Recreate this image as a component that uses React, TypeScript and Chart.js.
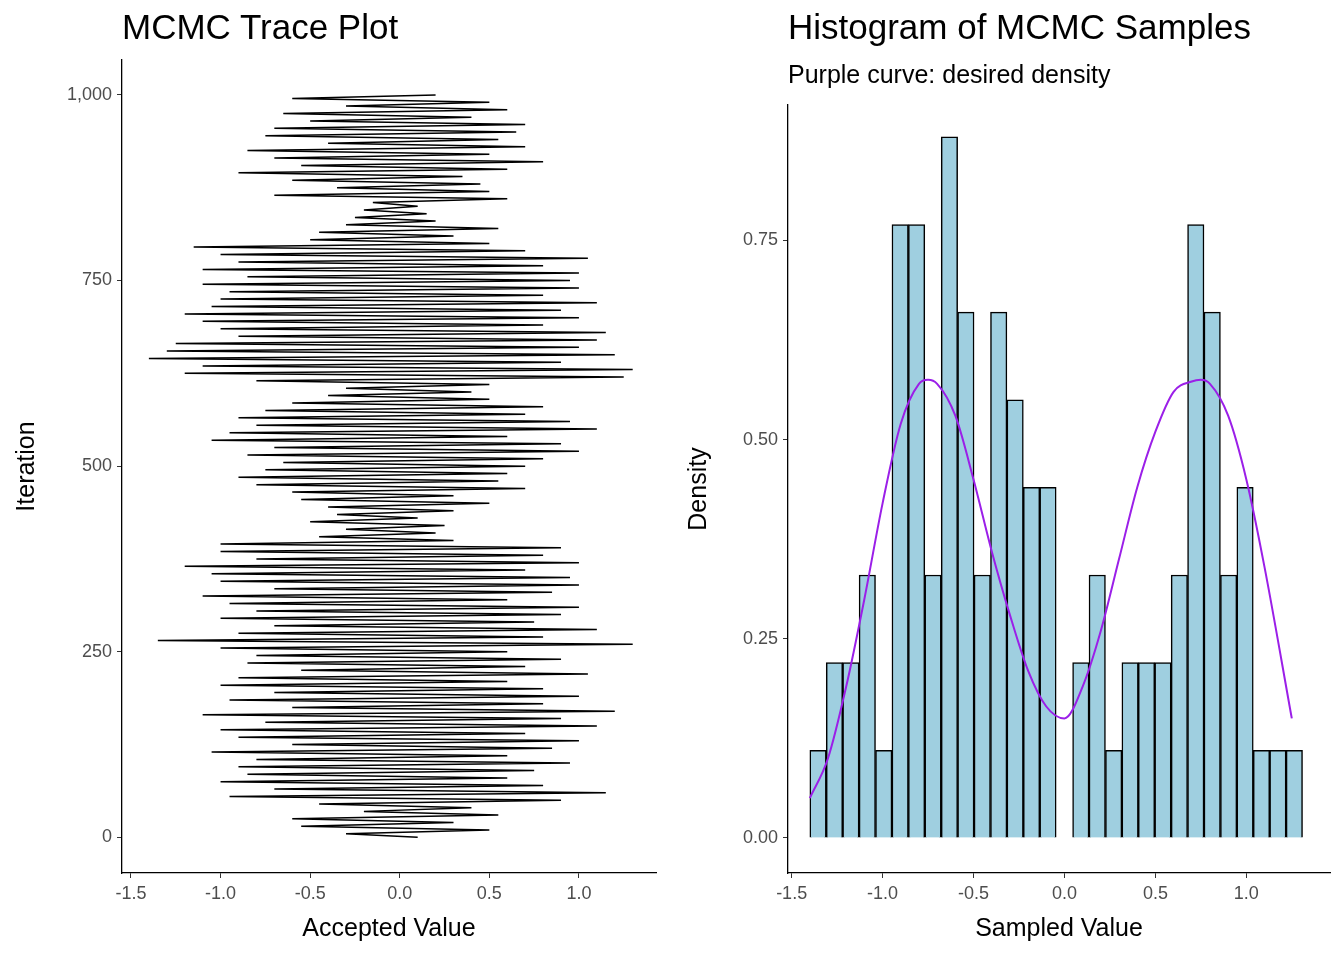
import { useEffect, useRef } from "react"
import { Chart, registerables } from "chart.js"

Chart.register(...registerables)

// trace: accepted value every 5 iterations
const traceStep = 5
const traceValues = [
  0.1, -0.3, 0.5, -0.55, 0.3, -0.6, 0.55, -0.2, 0.4, -0.45,
  0.9, -0.95, 1.15, -0.7, 0.8, -1.0, 0.6, -0.85, 0.75, -0.9,
  0.95, -0.8, 0.6, -1.05, 0.85, -0.6, 1.0, -0.9, 0.7, -1.0,
  1.1, -0.75, 0.9, -1.1, 1.2, -0.6, 0.8, -0.95, 1.0, -0.7,
  0.8, -1.0, 0.6, -0.9, 1.05, -0.55, 0.7, -0.85, 0.9, -0.8,
  0.6, -1.0, 1.3, -1.35, 0.8, -0.9, 1.1, -0.7, 0.75, -1.0,
  0.9, -0.8, 1.0, -0.95, 0.6, -1.1, 0.85, -0.7, 1.0, -1.0,
  0.95, -1.05, 0.7, -1.2, 1.0, -0.8, 0.8, -1.0, 0.9, -1.0,
  0.3, -0.45, 0.2, -0.3, 0.25, -0.5, 0.1, -0.35, 0.3, -0.4,
  0.5, -0.55, 0.3, -0.6, 0.7, -0.8, 0.55, -0.9, 0.6, -0.75,
  0.7, -0.65, 0.8, -0.85, 1.0, -0.7, 0.9, -1.05, 0.6, -0.95,
  1.1, -0.8, 0.95, -0.9, 0.7, -0.75, 0.8, -0.6, 0.5, -0.4,
  0.4, -0.3, 0.5, -0.8, 1.25, -1.2, 1.3, -1.1, 0.9, -1.4,
  1.2, -1.3, 1.0, -1.25, 1.1, -0.9, 1.15, -1.0, 0.8, -1.1,
  1.0, -1.2, 0.9, -1.05, 1.1, -1.0, 0.8, -0.95, 1.0, -1.1,
  0.95, -0.85, 1.0, -1.1, 0.8, -0.9, 1.05, -1.0, 0.7, -1.15,
  0.5, -0.5, 0.3, -0.45, 0.55, -0.3, 0.2, -0.25, 0.15, -0.2,
  0.1, -0.15, 0.6, -0.7, 0.5, -0.35, 0.45, -0.6, 0.35, -0.9,
  0.6, -0.55, 0.8, -0.7, 0.5, -0.85, 0.7, -0.4, 0.55, -0.75,
  0.65, -0.7, 0.7, -0.5, 0.4, -0.65, 0.6, -0.3, 0.5, -0.6,
  0.2,
]

// histogram
const binStart = -1.4
const binWidth = 0.0903
const binDensity = [
  0.11, 0.22, 0.22, 0.33, 0.11, 0.77, 0.77, 0.33, 0.88, 0.66,
  0.33, 0.66, 0.55, 0.44, 0.44, null, 0.22, 0.33, 0.11, 0.22,
  0.22, 0.22, 0.33, 0.77, 0.66, 0.33, 0.44, 0.11, 0.11, 0.11,
]

// desired density curve
const curveX = [-1.4, -1.3, -1.2, -1.1, -1.0, -0.9, -0.8, -0.75, -0.7, -0.6, -0.5, -0.4, -0.3, -0.2, -0.1, 0, 0.1, 0.2, 0.3, 0.4, 0.5, 0.6, 0.7, 0.75, 0.8, 0.9, 1.0, 1.1, 1.25]
const curveY = [0.05, 0.1, 0.19, 0.3, 0.42, 0.52, 0.57, 0.575, 0.57, 0.53, 0.45, 0.36, 0.28, 0.21, 0.165, 0.15, 0.19, 0.26, 0.35, 0.44, 0.51, 0.56, 0.573, 0.575, 0.57, 0.53, 0.45, 0.34, 0.15]

const valueTicks = [-1.5, -1.0, -0.5, 0.0, 0.5, 1.0]
const iterTicks = [0, 250, 500, 750, 1000]
const densityTicks = [0, 0.25, 0.5, 0.75]

const font = "'Liberation Sans', Arial, sans-serif"

function axis(ticks: number[], fmt: (v: number) => string, min: number, max: number, title: string, size: { w?: number; h?: number }) {
  return {
    type: "linear" as const,
    min,
    max,
    afterBuildTicks: (s: any) => { s.ticks = ticks.map((v) => ({ value: v })) },
    afterFit: (s: any) => {
      if (size.w !== undefined) s.width = size.w
      if (size.h !== undefined) s.height = size.h
    },
    grid: { drawOnChartArea: false, drawTicks: true, tickLength: 5, color: "#333", offset: false },
    border: { color: "#000", width: 1.3 },
    ticks: { color: "#4d4d4d", font: { family: font, size: 18 }, padding: 5, callback: (v: any) => fmt(Number(v)) },
    title: { display: true, text: title, color: "#000", font: { family: font, size: 25 }, padding: 2 },
  }
}

function TraceChart() {
  const ref = useRef<HTMLCanvasElement>(null)
  useEffect(() => {
    if (!ref.current) return
    const chart = new Chart(ref.current, {
      type: "scatter",
      data: {
        datasets: [{
          data: traceValues.map((v, i) => ({ x: v, y: i * traceStep })),
          showLine: true,
          borderColor: "#000",
          borderWidth: 1.5,
          pointRadius: 0,
          tension: 0,
        }],
      },
      options: {
        animation: false,
        responsive: false,
        layout: { padding: { top: 60, right: 16, left: 10, bottom: 14 } },
        plugins: { legend: { display: false }, tooltip: { enabled: false } },
        scales: {
          x: axis(valueTicks, (v) => v.toFixed(1), -1.55, 1.43, "Accepted Value", { h: 73 }),
          y: axis(iterTicks, (v) => v.toLocaleString("en-US"), -48, 1047, "Iteration", { w: 112 }),
        },
      },
    })
    return () => chart.destroy()
  }, [])
  return <canvas ref={ref} width={672} height={960} style={{ width: 672, height: 960 }} />
}

function HistChart() {
  const ref = useRef<HTMLCanvasElement>(null)
  useEffect(() => {
    if (!ref.current) return
    const chart = new Chart(ref.current, {
      type: "bar",
      data: {
        datasets: [
          {
            type: "line",
            data: curveX.map((x, i) => ({ x, y: curveY[i] })),
            borderColor: "#9b1fe8",
            borderWidth: 2,
            pointRadius: 0,
            cubicInterpolationMode: "monotone",
          } as any,
          {
            type: "bar",
            data: binDensity.map((d, i) => ({ x: binStart + binWidth * (i + 0.5), y: d })),
            backgroundColor: "#9fcfe0",
            borderColor: "#000",
            borderWidth: 1.5,
            categoryPercentage: 1,
            barPercentage: 1,
          } as any,
        ],
      },
      options: {
        animation: false,
        responsive: false,
        layout: { padding: { top: 105, right: 14, left: 10, bottom: 14 } },
        plugins: { legend: { display: false }, tooltip: { enabled: false } },
        scales: {
          x: { ...axis(valueTicks, (v) => v.toFixed(1), -1.52, 1.46, "Sampled Value", { h: 73 }), offset: false },
          y: axis(densityTicks, (v) => v.toFixed(2), -0.044, 0.92, "Density", { w: 106 }),
        },
      },
    })
    return () => chart.destroy()
  }, [])
  return <canvas ref={ref} width={672} height={960} style={{ width: 672, height: 960 }} />
}

export default function App() {
  return (
    <div style={{ position: "absolute", left: 0, top: 0, width: 1344, height: 960, background: "#fff", fontFamily: font }}>
      <div style={{ position: "absolute", left: 0, top: 0 }}><TraceChart /></div>
      <div style={{ position: "absolute", left: 672, top: 0 }}><HistChart /></div>
      <div style={{ position: "absolute", left: 122, top: 7, fontSize: 35, color: "#000" }}>MCMC Trace Plot</div>
      <div style={{ position: "absolute", left: 788, top: 7, fontSize: 35, color: "#000" }}>Histogram of MCMC Samples</div>
      <div style={{ position: "absolute", left: 788, top: 60, fontSize: 25, color: "#000" }}>Purple curve: desired density</div>
    </div>
  )
}
